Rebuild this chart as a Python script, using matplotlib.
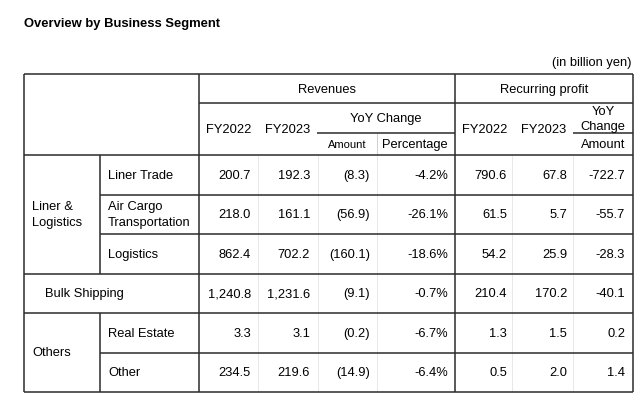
import matplotlib.pyplot as plt

plt.rcParams["font.family"] = ["Liberation Sans", "DejaVu Sans"]

title = "Overview by Business Segment"
unit_note = "(in billion yen)"

segments = ["Liner Trade", "Air Cargo\nTransportation", "Logistics",
            "Bulk Shipping", "Real Estate", "Other"]
rev_fy2022 = ["200.7", "218.0", "862.4", "1,240.8", "3.3", "234.5"]
rev_fy2023 = ["192.3", "161.1", "702.2", "1,231.6", "3.1", "219.6"]
rev_yoy_amount = ["(8.3)", "(56.9)", "(160.1)", "(9.1)", "(0.2)", "(14.9)"]
rev_yoy_pct = ["-4.2%", "-26.1%", "-18.6%", "-0.7%", "-6.7%", "-6.4%"]
rp_fy2022 = ["790.6", "61.5", "54.2", "210.4", "1.3", "0.5"]
rp_fy2023 = ["67.8", "5.7", "25.9", "170.2", "1.5", "2.0"]
rp_yoy_amount = ["-722.7", "-55.7", "-28.3", "-40.1", "0.2", "1.4"]

# layout in pixels
W, H = 640, 402
x_left, x_sub, x_rev, x_rp, x_right = 24, 100, 199, 455, 633
y_top, y_mid, y_sub, y_head = 75, 104, 134, 156
row_h = 39.5
rows_y = [y_head + i * row_h for i in range(len(segments) + 1)]
num_right = [251, 310, 370, 448, 507, 567, 625]
faint_x = [258, 318, 377, 512, 573]
dark = "#2b2b2b"
fs = 9.3

fig = plt.figure(figsize=(W / 100, H / 100), dpi=100)
ax = fig.add_axes([0, 0, 1, 1])
ax.set_xlim(0, W)
ax.set_ylim(H, 0)
ax.axis("off")


def hline(y, x0, x1, c=dark, lw=1.1):
    ax.plot([x0, x1], [y, y], color=c, lw=lw, solid_capstyle="butt")


def vline(x, y0, y1, c=dark, lw=1.1):
    ax.plot([x, x], [y0, y1], color=c, lw=lw, solid_capstyle="butt")


y_bot = rows_y[-1]
# faint column separators
for fx in faint_x:
    vline(fx, y_head, y_bot, c="#e4e4e4", lw=0.6)
vline(377, y_sub, y_head, c="#c8c8c8", lw=0.6)

# outer frame and main separators
hline(y_top, x_left, x_right)
hline(y_mid, x_rev, x_right)
hline(y_sub, 317, x_rp)
hline(y_sub, 573, x_right)
hline(y_head, x_left, x_right)
for i, y in enumerate(rows_y[1:], start=1):
    full = i in (3, 4, 6)
    hline(y, x_left if full else x_sub, x_right)
for x in (x_left, x_rev, x_rp, x_right):
    vline(x, y_top, y_bot)
vline(x_sub, y_head, rows_y[3])
vline(x_sub, rows_y[4], y_bot)

# titles
ax.text(x_left, 24, title, fontsize=9.4, fontweight="bold", va="center", ha="left")
ax.text(x_right - 1, 63, unit_note, fontsize=fs, va="center", ha="right")

# headers
ax.text((x_rev + x_rp) / 2, 90, "Revenues", fontsize=fs, ha="center", va="center")
ax.text((x_rp + x_right) / 2, 90, "Recurring profit", fontsize=fs, ha="center", va="center")
ax.text(229, 130, "FY2022", fontsize=fs, ha="center", va="center")
ax.text(288, 130, "FY2023", fontsize=fs, ha="center", va="center")
ax.text(386, 119, "YoY Change", fontsize=fs, ha="center", va="center")
ax.text(347, 145, "Amount", fontsize=8, ha="center", va="center")
ax.text(415, 145, "Percentage", fontsize=fs, ha="center", va="center")
ax.text(485, 130, "FY2022", fontsize=fs, ha="center", va="center")
ax.text(544, 130, "FY2023", fontsize=fs, ha="center", va="center")
ax.text(603, 112, "YoY", fontsize=fs, ha="center", va="center")
ax.text(603, 127, "Change", fontsize=fs, ha="center", va="center")
ax.text(603, 145, "Amount", fontsize=fs, ha="center", va="center")

# row labels
ax.text(32, (rows_y[0] + rows_y[3]) / 2, "Liner &\nLogistics", fontsize=fs,
        ha="left", va="center", linespacing=1.45)
ax.text(32, rows_y[5], "Others", fontsize=fs, ha="left", va="center")
for i, seg in enumerate(segments):
    yc = (rows_y[i] + rows_y[i + 1]) / 2
    xs = 45 if seg == "Bulk Shipping" else 108
    ax.text(xs, yc, seg, fontsize=fs, ha="left", va="center", linespacing=1.45)

# values
columns = [rev_fy2022, rev_fy2023, rev_yoy_amount, rev_yoy_pct,
           rp_fy2022, rp_fy2023, rp_yoy_amount]
for col, xr in zip(columns, num_right):
    for i, val in enumerate(col):
        yc = (rows_y[i] + rows_y[i + 1]) / 2
        ax.text(xr, yc, val, fontsize=fs, ha="right", va="center")

fig.savefig("out.png", dpi=100)
